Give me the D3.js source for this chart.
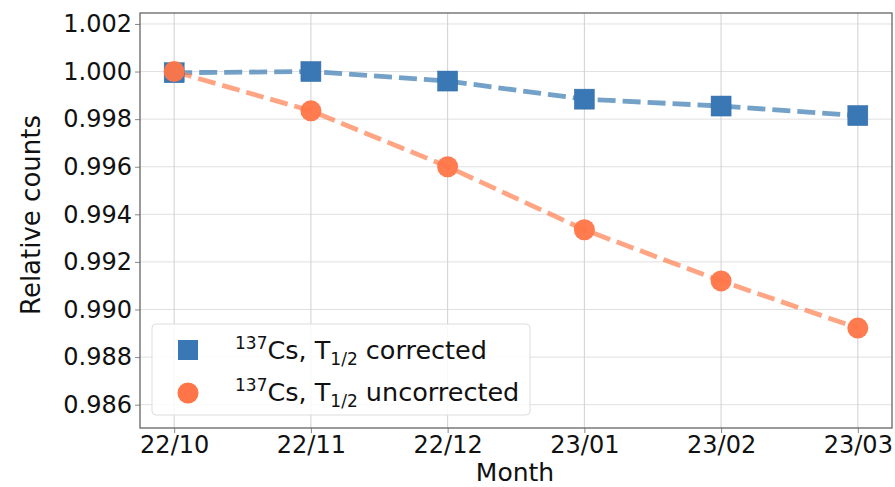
<!DOCTYPE html>
<html><head><meta charset="utf-8">
<script src="https://cdn.jsdelivr.net/npm/d3@7"></script>
<style>body{margin:0;background:#fff;font-family:"DejaVu Sans",sans-serif;}</style>
</head><body><svg id="c" width="895" height="487"></svg>
<script>
const months = ["22/10","22/11","22/12","23/01","23/02","23/03"];
const corrected = [0.99995, 1.00000, 0.99960, 0.99884, 0.99855, 0.99815];
const uncorrected = [1.00000, 0.99835, 0.99600, 0.99335, 0.99120, 0.98922];
const yTicks = [0.986,0.988,0.990,0.992,0.994,0.996,0.998,1.000,1.002];

const svg = d3.select("#c");
const L=140, R=892, T=13, B=428;
const x = d3.scaleLinear().domain([-0.25, 5.25]).range([L,R]);
const y = d3.scaleLinear().domain([0.98502, 1.00246]).range([B,T]);

const g = svg.append("g");
g.selectAll(".gy").data(yTicks).enter().append("line")
 .attr("x1",L).attr("x2",R).attr("y1",d=>y(d)).attr("y2",d=>y(d))
 .attr("stroke","#e0e0e0").attr("stroke-width",1);
g.selectAll(".gx").data(months).enter().append("line")
 .attr("x1",(d,i)=>x(i)).attr("x2",(d,i)=>x(i)).attr("y1",T).attr("y2",B)
 .attr("stroke","#d0d0d0").attr("stroke-width",1);

const xAxis = d3.axisBottom(x).tickValues(d3.range(months.length)).tickFormat(i=>months[i]).tickSize(5).tickPadding(3);
const yAxis = d3.axisLeft(y).tickValues(yTicks).tickFormat(d3.format(".3f")).tickSize(5).tickPadding(3);
const ax = svg.append("g").attr("transform",`translate(0,${B})`).call(xAxis);
const ay = svg.append("g").attr("transform",`translate(${L},0)`).call(yAxis);
[ax,ay].forEach(a=>{
  a.select(".domain").remove();
  a.selectAll("line").attr("stroke","#888");
  a.selectAll("text").attr("font-family","DejaVu Sans").attr("font-size",24).attr("fill","#111");
});
svg.append("rect").attr("x",L).attr("y",T).attr("width",R-L).attr("height",B-T)
 .attr("fill","none").attr("stroke","#666").attr("stroke-width",1.3);

const line = d3.line().x((d,i)=>x(i)).y(d=>y(d));
const blue="#3a78b5", orange="#ff7547";
svg.append("path").datum(corrected).attr("d",line).attr("fill","none")
 .attr("stroke","#4682b4").attr("stroke-opacity",0.75).attr("stroke-width",4.8).attr("stroke-dasharray","18,7");
svg.append("path").datum(uncorrected).attr("d",line).attr("fill","none")
 .attr("stroke","#ff7f50").attr("stroke-opacity",0.7).attr("stroke-width",4.8).attr("stroke-dasharray","18,7");

const s=20;
svg.selectAll(".sq").data(corrected).enter().append("rect")
 .attr("x",(d,i)=>x(i)-s/2).attr("y",d=>y(d)-s/2).attr("width",s).attr("height",s)
 .attr("fill",blue).attr("stroke","#2f6aa3").attr("stroke-width",0.5);
svg.selectAll(".ci").data(uncorrected).enter().append("circle")
 .attr("cx",(d,i)=>x(i)).attr("cy",d=>y(d)).attr("r",10.5)
 .attr("fill",orange).attr("fill-opacity",0.95);

svg.append("text").attr("x",515).attr("y",481).attr("text-anchor","middle")
 .attr("font-size",25).attr("fill","#111").text("Month");
svg.append("text").attr("transform","translate(40,215) rotate(-90)").attr("text-anchor","middle")
 .attr("font-size",26).attr("fill","#111").text("Relative counts");

const lg = svg.append("g");
lg.append("rect").attr("x",152).attr("y",324).attr("width",378).attr("height",91).attr("rx",4)
 .attr("fill","#fff").attr("fill-opacity",0.85).attr("stroke","#ddd");
lg.append("rect").attr("x",188-s/2).attr("y",350-s/2).attr("width",s).attr("height",s).attr("fill",blue);
lg.append("circle").attr("cx",188).attr("cy",393).attr("r",10.5).attr("fill",orange);
const labels = ["corrected","uncorrected"];
labels.forEach((lab,k)=>{
  const t = lg.append("text").attr("x",235).attr("y",[359,401][k]).attr("font-size",25.5).attr("fill","#111");
  t.append("tspan").attr("font-size",17).attr("dy",-10).text("137");
  t.append("tspan").attr("dy",10).text("Cs, T");
  t.append("tspan").attr("font-size",17).attr("dy",6).text("1/2");
  t.append("tspan").attr("dy",-6).text(" "+lab);
});
</script></body></html>
